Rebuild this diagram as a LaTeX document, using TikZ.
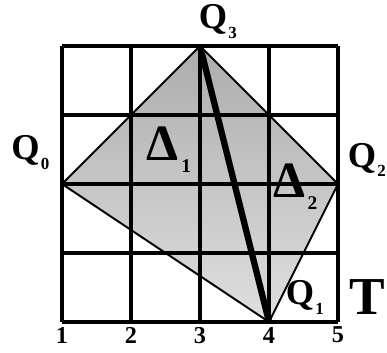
\documentclass[tikz,border=0pt]{standalone}
\usepackage{fontspec}
\setmainfont{Liberation Serif}
\usepackage{tikz}
\usetikzlibrary{arrows,arrows.meta}

\newcommand{\qlab}[2]{#1\kern0.5pt\lower4pt\hbox{\fontsize{7}{8}\selectfont #2}}
\newcommand{\dlab}[1]{Δ\kern1pt\lower5pt\hbox{\fontsize{8}{9}\selectfont #1}}

\begin{document}
\begin{tikzpicture}[
gridline/.style={line width=1.3pt},
edge/.style={line width=0.8pt},
diag/.style={line width=2.6pt},
qname/.style={font=\fontsize{15}{17}\bfseries\selectfont,inner sep=0pt},
dname/.style={font=\fontsize{21}{23}\bfseries\selectfont,inner sep=0pt},
num/.style={font=\fontsize{10}{12}\bfseries\selectfont,inner sep=0pt} ]

\useasboundingbox (0.101,0.551) rectangle (5.710,5.667);

\coordinate (Q0) at (1,3);
\coordinate (Q1) at (4,1);
\coordinate (Q2) at (5,3);
\coordinate (Q3) at (3,5);

% shaded quadrilateral
\shade[top color=gray!65,bottom color=gray!25] (Q0) -- (Q3) -- (Q2) -- (Q1) -- cycle;

\draw[gridline] (1,1) grid (5,5);

\draw[edge] (Q0) -- (Q3) -- (Q2) -- (Q1) -- cycle;

\draw[diag] (Q3) -- (Q1);

\node[qname](L0) at (0.54,3.46) {\qlab{Q}{0}};

\node[qname](L3) at (3.26,5.35) {\qlab{Q}{3}};

\node[qname](L2) at (5.42,3.35) {\qlab{Q}{2}};

\node[qname](L1) at (4.52,1.36) {\qlab{Q}{1}};

\node[dname,font=\fontsize{22}{24}\bfseries\selectfont](T) at (5.43,1.36) {T};

\node[dname](D1) at (2.55,3.5) {\dlab{1}};

\node[dname](D2) at (4.38,2.96) {\dlab{2}};

\foreach \i in {1,...,5}
  \node[num](n\i) at (\i,0.81) {\i};
\end{tikzpicture}
\end{document}
